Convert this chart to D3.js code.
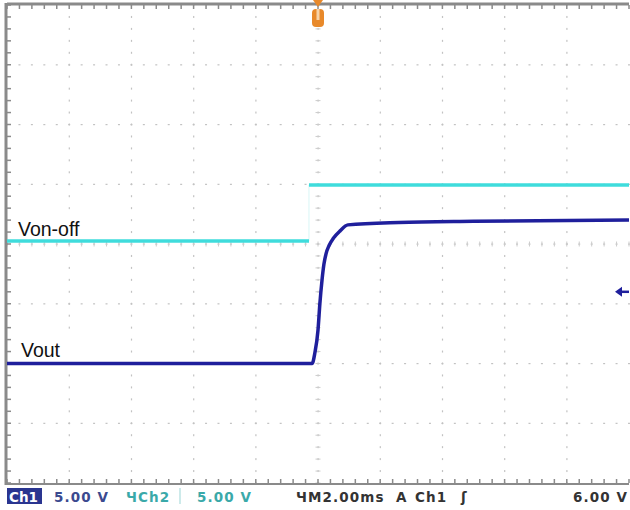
<!DOCTYPE html>
<html>
<head>
<meta charset="utf-8">
<script src="https://cdn.jsdelivr.net/npm/d3@7"></script>
<style>
  html, body { margin: 0; padding: 0; background: #fff; }
  svg { display: block; }
</style>
</head>
<body>
<svg id="scope"></svg>
<script>
// time in ms relative to trigger, volts per channel
const voutTime = [-10, -5, -0.19, -0.10, 0, 0.06, 0.13, 0.19, 0.26, 0.36, 0.50, 0.71, 0.96, 2.6, 5, 10];
const voutVolts = [0, 0, 0, 0.9, 2.8, 5.0, 7.0, 8.3, 9.2, 9.9, 10.5, 11.1, 11.6, 11.8, 11.9, 12.0];

const vonTime = [-10, -0.29, -0.29, 10];
const vonVolts = [0.25, 0.25, 4.94, 4.94];

const traceLabels = ["Von-off", "Vout"];
const statusTexts = ["Ch1", "5.00 V", "\u0427Ch2", "5.00 V", "\u0427M2.00ms", "A", "Ch1", "\u0283", "6.00 V"];
const triggerLevel = 6.0; // Ch1 volts

const W = 630, H = 510;
const PLOT = { left: 7, right: 629, top: 5, bottom: 483 };
const DIVS_X = 10, DIVS_Y = 8;

const svg = d3.select("#scope").attr("width", W).attr("height", H);
svg.append("rect").attr("width", W).attr("height", H).attr("fill", "white");

const x = d3.scaleLinear().domain([-10, 10]).range([PLOT.left, PLOT.right]);
// Ch1: ground two divisions above bottom, 5 V/div
const y1 = d3.scaleLinear().domain([-10, 30]).range([PLOT.bottom, PLOT.top]);
// Ch2: ground at centre, 5 V/div
const y2 = d3.scaleLinear().domain([-20, 20]).range([PLOT.bottom, PLOT.top]);
// graticule in divisions
const gx = d3.scaleLinear().domain([0, DIVS_X]).range([PLOT.left, PLOT.right]);
const gy = d3.scaleLinear().domain([0, DIVS_Y]).range([PLOT.top, PLOT.bottom]);

const grid = svg.append("g");
const minorX = d3.range(0, DIVS_X * 5 + 1).map(i => i / 5);
const minorY = d3.range(0, DIVS_Y * 5 + 1).map(i => i / 5);

// dotted division lines
d3.range(1, DIVS_X).forEach(d => {
  grid.selectAll(null).data(minorY).join("rect")
    .attr("x", gx(d) - 0.5).attr("y", v => gy(v) - 1)
    .attr("width", 1.2).attr("height", 2).attr("fill", "#c2c2c2");
});
d3.range(1, DIVS_Y).forEach(d => {
  grid.selectAll(null).data(minorX).join("rect")
    .attr("x", v => gx(v) - 1).attr("y", gy(d) - 0.5)
    .attr("width", 2).attr("height", 1.2).attr("fill", "#c2c2c2");
});

// centre crosshair ticks
grid.selectAll(null).data(minorX).join("line")
  .attr("x1", v => gx(v)).attr("x2", v => gx(v))
  .attr("y1", gy(4) - 2.5).attr("y2", gy(4) + 2.5)
  .attr("stroke", "#cccccc").attr("stroke-width", 1);
grid.selectAll(null).data(minorY).join("line")
  .attr("y1", v => gy(v)).attr("y2", v => gy(v))
  .attr("x1", gx(5) - 2.5).attr("x2", gx(5) + 2.5)
  .attr("stroke", "#cccccc").attr("stroke-width", 1);

// border
grid.append("line").attr("x1", PLOT.left).attr("x2", PLOT.right)
  .attr("y1", PLOT.top - 1).attr("y2", PLOT.top - 1).attr("stroke", "#8a8a8a").attr("stroke-width", 3);
grid.append("line").attr("x1", PLOT.left).attr("x2", PLOT.right)
  .attr("y1", PLOT.bottom + 1).attr("y2", PLOT.bottom + 1).attr("stroke", "#8a8a8a").attr("stroke-width", 2);
grid.append("line").attr("x1", PLOT.left - 1).attr("x2", PLOT.left - 1)
  .attr("y1", PLOT.top - 2).attr("y2", PLOT.bottom + 2).attr("stroke", "#8a8a8a").attr("stroke-width", 3);

// border ticks
grid.selectAll(null).data(minorX).join("line")
  .attr("x1", v => gx(v)).attr("x2", v => gx(v))
  .attr("y1", PLOT.top).attr("y2", PLOT.top + 4)
  .attr("stroke", "#8a8a8a").attr("stroke-width", 1.5);
grid.selectAll(null).data(minorX).join("line")
  .attr("x1", v => gx(v)).attr("x2", v => gx(v))
  .attr("y1", PLOT.bottom - 4).attr("y2", PLOT.bottom)
  .attr("stroke", "#8a8a8a").attr("stroke-width", 1.5);
grid.selectAll(null).data(minorY).join("line")
  .attr("y1", v => gy(v)).attr("y2", v => gy(v))
  .attr("x1", PLOT.left).attr("x2", PLOT.left + 4)
  .attr("stroke", "#8a8a8a").attr("stroke-width", 1.5);

// labels on white boxes (drawn under the traces)
const labelBox = [
  { x: 12, y: 218, w: 80, h: 22, tx: 18, ty: 236 },
  { x: 16, y: 338, w: 56, h: 24, tx: 21, ty: 357 }
];
traceLabels.forEach((txt, i) => {
  const b = labelBox[i];
  svg.append("rect").attr("x", b.x).attr("y", b.y).attr("width", b.w).attr("height", b.h)
    .attr("fill", "white");
  svg.append("text").attr("x", b.tx).attr("y", b.ty)
    .attr("font-family", "Liberation Sans, Arial, sans-serif").attr("font-size", 19.5)
    .attr("fill", "#111").text(txt);
});

// traces
const von = vonTime.map((t, i) => [t, vonVolts[i]]);
const vout = voutTime.map((t, i) => [t, voutVolts[i]]);

svg.append("line")
  .attr("x1", x(vonTime[1])).attr("x2", x(vonTime[2]))
  .attr("y1", y2(vonVolts[1])).attr("y2", y2(vonVolts[2]))
  .attr("stroke", "#d8f6f6").attr("stroke-width", 1);
svg.append("path")
  .datum([von[0], von[1]])
  .attr("d", d3.line().x(d => x(d[0])).y(d => y2(d[1])))
  .attr("fill", "none").attr("stroke", "#3fdcdc").attr("stroke-width", 3.5);
svg.append("path")
  .datum([von[2], von[3]])
  .attr("d", d3.line().x(d => x(d[0])).y(d => y2(d[1])))
  .attr("fill", "none").attr("stroke", "#3fdcdc").attr("stroke-width", 3.5);

svg.append("path")
  .datum(vout)
  .attr("d", d3.line().x(d => x(d[0])).y(d => y1(d[1])).curve(d3.curveMonotoneX))
  .attr("fill", "none").attr("stroke", "#1f1f9c").attr("stroke-width", 3.5)
  .attr("stroke-linejoin", "round");

// trigger position marker (top)
const tx = x(0);
svg.append("path")
  .attr("d", `M${tx - 5},0 L${tx + 5},0 L${tx},7 Z`)
  .attr("fill", "#e8892a");
svg.append("rect").attr("x", tx - 6).attr("y", 9).attr("width", 12).attr("height", 18)
  .attr("rx", 4).attr("fill", "#e8892a");
svg.append("rect").attr("x", tx - 1.5).attr("y", 9).attr("width", 3).attr("height", 11)
  .attr("fill", "#f7d3a8");

// trigger level marker (right)
const ty = y1(triggerLevel);
svg.append("path")
  .attr("d", `M615,${ty} L622,${ty - 5} L622,${ty + 5} Z`)
  .attr("fill", "#1f1f9c");
svg.append("line").attr("x1", 620).attr("x2", 629).attr("y1", ty).attr("y2", ty)
  .attr("stroke", "#1f1f9c").attr("stroke-width", 2.5);

// status bar
const status = svg.append("g")
  .attr("font-family", "DejaVu Sans, sans-serif").attr("font-size", 13.5)
  .attr("font-weight", "bold");
const statusX = [9, 54, 126, 197, 296, 396, 415, 461, 573];
const statusColor = ["#fff", "#3b4a8f", "#3aa9a9", "#3aa9a9", "#333", "#333", "#333", "#333", "#333"];
status.append("rect").attr("x", 7).attr("y", 488).attr("width", 35).attr("height", 16)
  .attr("fill", "#2a3590");
status.append("line").attr("x1", 180).attr("x2", 180).attr("y1", 488).attr("y2", 504)
  .attr("stroke", "#9bd5d5").attr("stroke-width", 1);
status.selectAll("text").data(statusTexts).join("text")
  .attr("x", (d, i) => statusX[i]).attr("y", 502)
  .attr("fill", (d, i) => statusColor[i])
  .attr("letter-spacing", (d, i) => i === 0 ? 0 : 1.1)
  .text(d => d);
</script>
</body>
</html>
